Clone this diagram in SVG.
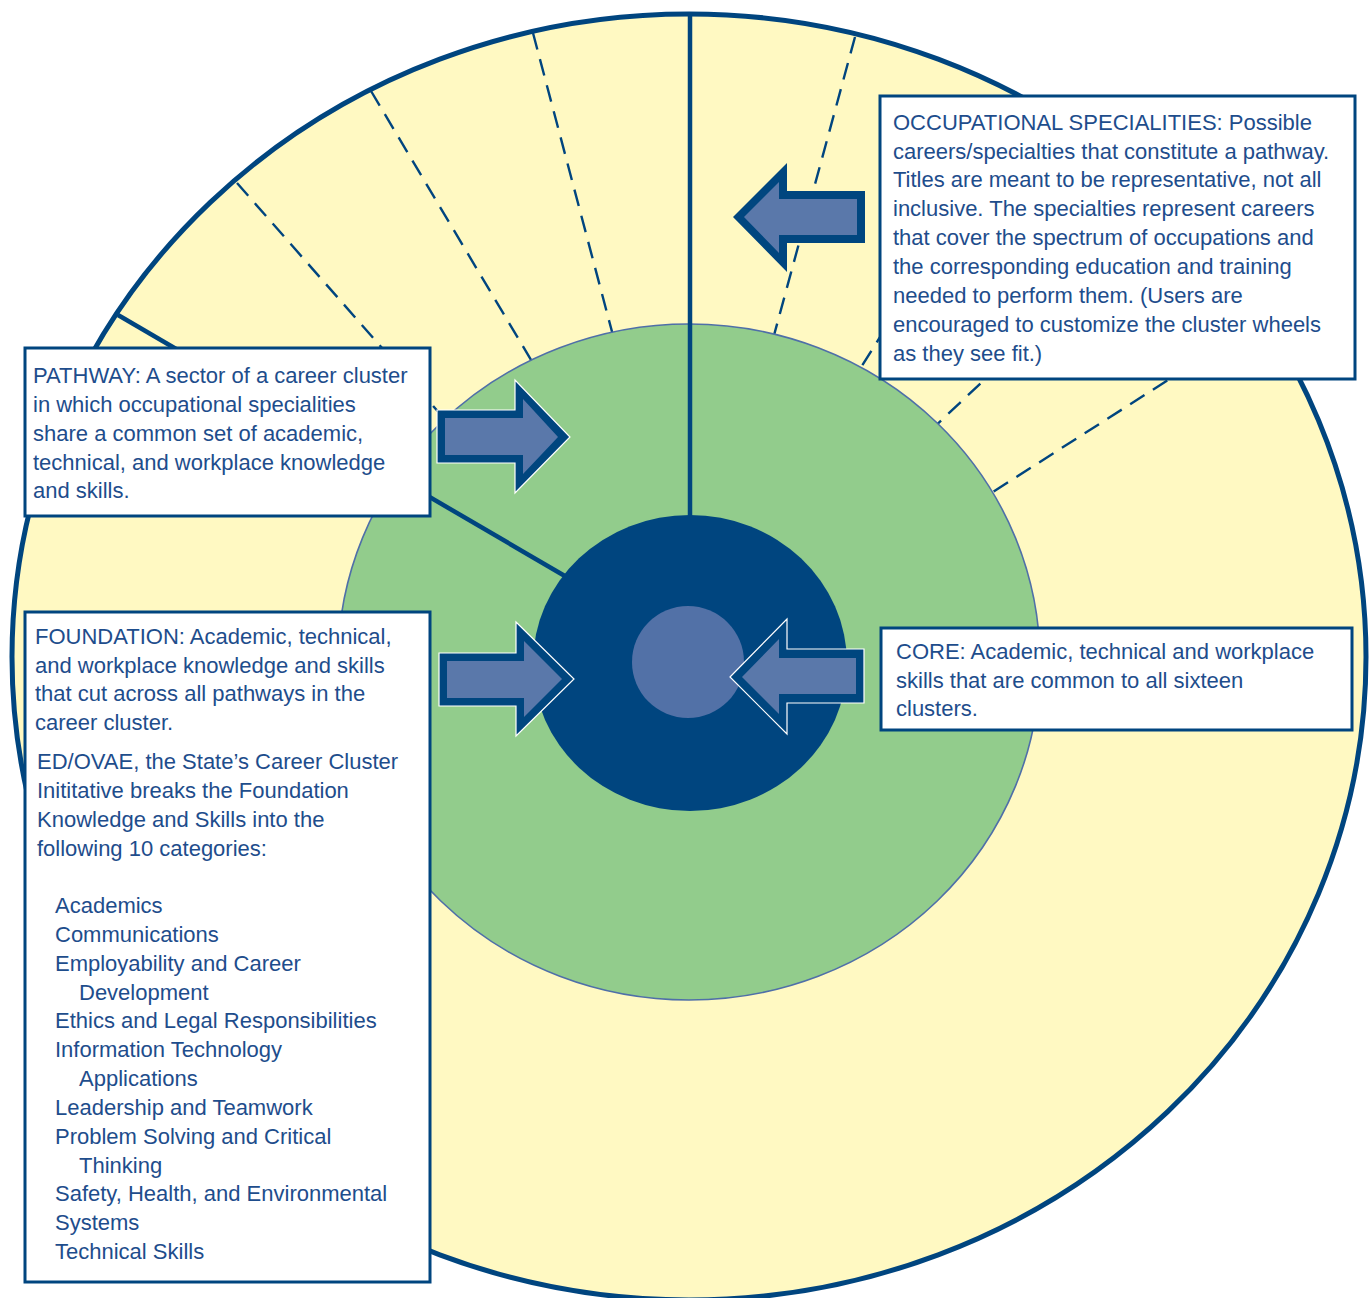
<svg xmlns="http://www.w3.org/2000/svg" width="1371" height="1298" viewBox="0 0 1371 1298">
<style>
.t{font-family:"Liberation Sans",Arial,sans-serif;font-size:22px;fill:#1E4D8C}
.box{fill:#FFFFFF;stroke:#00457F;stroke-width:3}
.dash{stroke:#00457F;stroke-width:2.4;stroke-dasharray:17 10;fill:none}
.solid{stroke:#00457F;stroke-width:4.5;fill:none}
.aout{fill:#00467F}
.aoutw{fill:#00467F;stroke:#FFFFFF;stroke-width:1.2}
.ain{fill:#5A78AA}
</style>
<rect x="0" y="0" width="1371" height="1298" fill="#FFFFFF"/>
<g id="outer-ring">
<ellipse cx="689" cy="657" rx="677" ry="643" fill="#FFF9C2" stroke="#00457F" stroke-width="5"/>
</g>
<g id="connectors">
<line class="dash" x1="237" y1="183" x2="470" y2="448"/>
<line class="dash" x1="371" y1="91" x2="540" y2="375"/>
<line class="dash" x1="533" y1="33" x2="620" y2="362"/>
<line class="dash" x1="855" y1="37" x2="770" y2="350"/>
<line class="dash" x1="900" y1="305" x2="850" y2="385"/>
<line class="dash" x1="1000" y1="365" x2="930" y2="431"/>
<line class="dash" x1="1190" y1="366" x2="985" y2="497"/>
</g>
<g id="foundation-ring">
<ellipse cx="689" cy="662" rx="351" ry="338" fill="#92CC8C" stroke="#4F6FA8" stroke-width="1.6"/>
</g>
<g id="pathway-lines">
<line class="solid" x1="690" y1="12" x2="690" y2="530"/>
<line class="solid" x1="118" y1="315" x2="570" y2="579"/>
</g>
<g id="core-ring">
<ellipse cx="690" cy="663" rx="157" ry="148" fill="#00457F"/>
<circle cx="688" cy="662" r="56" fill="#5271A7"/>
</g>
<g id="arrows">
<g id="arrow-occupational">
<polygon class="aout" points="733,217 787,163 787,191 865,191 865,243 787,243 787,272"/>
<polygon class="ain" points="744,217 779,182 779,199 857,199 857,235 779,235 779,253"/>
</g>
<g id="arrow-pathway">
<polygon class="aoutw" points="437,410 515,410 515,380 570,437 515,493 515,463 437,463"/>
<polygon class="ain" points="445,418 523,418 523,399 558,437 523,474 523,455 445,455"/>
</g>
<g id="arrow-foundation">
<polygon class="aoutw" points="439,653 516,653 516,622 574,679 516,736 516,706 439,706"/>
<polygon class="ain" points="447,661 524,661 524,641 562,679 524,717 524,698 447,698"/>
</g>
<g id="arrow-core">
<polygon class="aoutw" points="730,677 787,619 787,649 864,649 864,703 787,703 787,734"/>
<polygon class="ain" points="742,677 779,639 779,658 856,658 856,694 779,694 779,714"/>
</g>
</g>
<g id="box-occupational">
<rect class="box" x="880" y="96" width="475" height="283"/>
<text class="t" x="893" y="130">OCCUPATIONAL SPECIALITIES: Possible</text>
<text class="t" x="893" y="159">careers/specialties that constitute a pathway.</text>
<text class="t" x="893" y="187">Titles are meant to be representative, not all</text>
<text class="t" x="893" y="216">inclusive. The specialties represent careers</text>
<text class="t" x="893" y="245">that cover the spectrum of occupations and</text>
<text class="t" x="893" y="274">the corresponding education and training</text>
<text class="t" x="893" y="303">needed to perform them. (Users are</text>
<text class="t" x="893" y="332">encouraged to customize the cluster wheels</text>
<text class="t" x="893" y="361">as they see fit.)</text>
</g>
<g id="box-pathway">
<rect class="box" x="25" y="348" width="405" height="168"/>
<text class="t" x="33" y="383">PATHWAY: A sector of a career cluster</text>
<text class="t" x="33" y="412">in which occupational specialities</text>
<text class="t" x="33" y="441">share a common set of academic,</text>
<text class="t" x="33" y="470">technical, and workplace knowledge</text>
<text class="t" x="33" y="498">and skills.</text>
</g>
<g id="box-foundation">
<rect class="box" x="25" y="612" width="405" height="670"/>
<text class="t" x="35" y="644">FOUNDATION: Academic, technical,</text>
<text class="t" x="35" y="673">and workplace knowledge and skills</text>
<text class="t" x="35" y="701">that cut across all pathways in the</text>
<text class="t" x="35" y="730">career cluster.</text>
<text class="t" x="37" y="769">ED/OVAE, the State’s Career Cluster</text>
<text class="t" x="37" y="798">Inititative breaks the Foundation</text>
<text class="t" x="37" y="827">Knowledge and Skills into the</text>
<text class="t" x="37" y="856">following 10 categories:</text>
<text class="t" x="55" y="913">Academics</text>
<text class="t" x="55" y="942">Communications</text>
<text class="t" x="55" y="971">Employability and Career</text>
<text class="t" x="79" y="1000">Development</text>
<text class="t" x="55" y="1028">Ethics and Legal Responsibilities</text>
<text class="t" x="55" y="1057">Information Technology</text>
<text class="t" x="79" y="1086">Applications</text>
<text class="t" x="55" y="1115">Leadership and Teamwork</text>
<text class="t" x="55" y="1144">Problem Solving and Critical</text>
<text class="t" x="79" y="1173">Thinking</text>
<text class="t" x="55" y="1201">Safety, Health, and Environmental</text>
<text class="t" x="55" y="1230">Systems</text>
<text class="t" x="55" y="1259">Technical Skills</text>
</g>
<g id="box-core">
<rect class="box" x="881" y="628" width="471" height="102"/>
<text class="t" x="896" y="659">CORE: Academic, technical and workplace</text>
<text class="t" x="896" y="688">skills that are common to all sixteen</text>
<text class="t" x="896" y="716">clusters.</text>
</g>
</svg>
